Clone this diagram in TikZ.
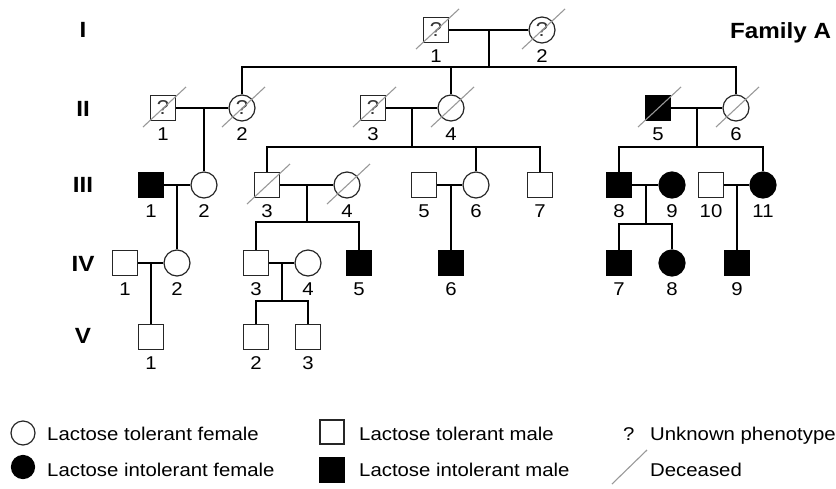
\documentclass[tikz,border=0pt]{standalone}
\usepackage{fontspec}
\setmainfont{Liberation Sans}[FakeStretch=1.1]
\begin{document}
\begin{tikzpicture}[x=1pt,y=-1pt,
  male/.style={draw=black!85, rectangle, minimum size=25pt, inner sep=0pt, line width=1.2pt, text=black!80, font=\fontsize{20}{20}\selectfont},
  female/.style={draw=black!85, circle, minimum size=26pt, inner sep=0pt, line width=1.2pt, text=black!80, font=\fontsize{20}{20}\selectfont},
  aff/.style={fill=black, draw=black},
  rel/.style={line width=1.8pt, black},
  deadline/.style={draw=black!40, line width=1.1pt},
  num/.style={font=\fontsize{18.5}{18.5}\selectfont, inner sep=0pt},
  gen/.style={font=\bfseries\fontsize{22}{22}\selectfont, inner sep=0pt},
  leg/.style={font=\fontsize{18.5}{18.5}\selectfont, inner sep=0pt, anchor=base west}]
\useasboundingbox (0,0) rectangle (836,488);
\newcommand\indiv[6]{\node[#2] (#1) at (#3,#4) {#6}; \node[num] (#1n) at (#3,#4+26) {#5};}
\newcommand\dead[1]{\draw[deadline] ([shift={(-20,19)}]#1.center) -- ([shift={(23,-21)}]#1.center);}

% generation labels
\node[gen] (gI) at (83,30) {I};
\node[gen] (gII) at (83,109) {II};
\node[gen] (gIII) at (83,185) {III};
\node[gen] (gIV) at (83,264) {IV};
\node[gen] (gV) at (83,336) {V};
\node[gen, anchor=base west] (fam) at (730,38) {Family A};

% Generation I
\indiv{I1}{male}{436}{30}{1}{?}
\indiv{I2}{female}{542}{30}{2}{?}
% Generation II
\indiv{II1}{male}{163}{108}{1}{?}
\indiv{II2}{female}{242}{108}{2}{?}
\indiv{II3}{male}{373}{108}{3}{?}
\indiv{II4}{female}{451}{108}{4}{}
\indiv{II5}{male,aff}{658}{108}{5}{}
\indiv{II6}{female}{736}{108}{6}{}
% Generation III
\indiv{III1}{male,aff}{151}{185}{1}{}
\indiv{III2}{female}{204}{185}{2}{}
\indiv{III3}{male}{267}{185}{3}{}
\indiv{III4}{female}{347}{185}{4}{}
\indiv{III5}{male}{424}{185}{5}{}
\indiv{III6}{female}{476}{185}{6}{}
\indiv{III7}{male}{540}{185}{7}{}
\indiv{III8}{male,aff}{619}{185}{8}{}
\indiv{III9}{female,aff}{672}{185}{9}{}
\indiv{III10}{male}{711}{185}{10}{}
\indiv{III11}{female,aff}{763}{185}{11}{}
% Generation IV
\indiv{IV1}{male}{125}{263}{1}{}
\indiv{IV2}{female}{177}{263}{2}{}
\indiv{IV3}{male}{256}{263}{3}{}
\indiv{IV4}{female}{308}{263}{4}{}
\indiv{IV5}{male,aff}{359}{263}{5}{}
\indiv{IV6}{male,aff}{451}{263}{6}{}
\indiv{IV7}{male,aff}{619}{263}{7}{}
\indiv{IV8}{female,aff}{672}{263}{8}{}
\indiv{IV9}{male,aff}{737}{263}{9}{}
% Generation V
\indiv{V1}{male}{151}{337}{1}{}
\indiv{V2}{male}{256}{337}{2}{}
\indiv{V3}{male}{308}{337}{3}{}

% marriages
\draw[rel] (I1) -- (I2);
\draw[rel] (II1) -- (II2);
\draw[rel] (II3) -- (II4);
\draw[rel] (II5) -- (II6);
\draw[rel] (III1) -- (III2);
\draw[rel] (III3) -- (III4);
\draw[rel] (III5) -- (III6);
\draw[rel] (III8) -- (III9);
\draw[rel] (III10) -- (III11);
\draw[rel] (IV1) -- (IV2);
\draw[rel] (IV3) -- (IV4);

% descent I
\coordinate (cI) at (489,30);
\coordinate (sI) at (489,67);
\draw[rel] (cI) -- (sI);
\draw[rel] (II2) |- (sI) -| (II6);
\draw[rel] (II4 |- sI) -- (II4);
% descent II-1/2
\coordinate (cII1) at (204,108);
\draw[rel] (cII1) -- (III2);
% descent II-3/4
\coordinate (cII3) at (412,108);
\coordinate (sII3) at (412,147);
\draw[rel] (cII3) -- (sII3);
\draw[rel] (III3) |- (sII3) -| (III7);
\draw[rel] (III6 |- sII3) -- (III6);
% descent II-5/6
\coordinate (cII5) at (697,108);
\coordinate (sII5) at (697,147);
\draw[rel] (cII5) -- (sII5);
\draw[rel] (III8) |- (sII5) -| (III11);
% descent III-1/2
\coordinate (cIII1) at (177,185);
\draw[rel] (cIII1) -- (IV2);
% descent III-3/4
\coordinate (cIII3) at (307,185);
\coordinate (sIII3) at (307,222);
\draw[rel] (cIII3) -- (sIII3);
\draw[rel] (IV3) |- (sIII3) -| (IV5);
% descent III-5/6
\coordinate (cIII5) at (451,185);
\draw[rel] (cIII5) -- (IV6);
% descent III-8/9
\coordinate (cIII8) at (646,185);
\coordinate (sIII8) at (646,224);
\draw[rel] (cIII8) -- (sIII8);
\draw[rel] (IV7) |- (sIII8) -| (IV8);
% descent III-10/11
\coordinate (cIII10) at (737,185);
\draw[rel] (cIII10) -- (IV9);
% descent IV-1/2
\coordinate (cIV1) at (151,263);
\draw[rel] (cIV1) -- (V1);
% descent IV-3/4
\coordinate (cIV3) at (282,263);
\coordinate (sIV3) at (282,301);
\draw[rel] (cIV3) -- (sIV3);
\draw[rel] (V2) |- (sIV3) -| (V3);

% deceased marks
\dead{I1}\dead{I2}
\dead{II1}\dead{II2}\dead{II3}\dead{II4}\dead{II5}\dead{II6}
\dead{III3}\dead{III4}

% legend
\node[female, minimum size=24pt] (lg1) at (23,433) {};
\node[leg] (lt1) at (47,440) {Lactose tolerant female};
\node[female, aff, minimum size=23pt] (lg2) at (23,467) {};
\node[leg] (lt2) at (47,476) {Lactose intolerant female};
\node[male, minimum size=24pt] (lg3) at (332,432) {};
\node[leg] (lt3) at (359,440) {Lactose tolerant male};
\node[male, aff, minimum size=24pt] (lg4) at (332,470) {};
\node[leg] (lt4) at (359,476) {Lactose intolerant male};
\node[leg] (lq) at (623,440) {?};
\node[leg] (lt5) at (650,440) {Unknown phenotype};
\coordinate (ds1) at (612,484);
\coordinate (ds2) at (647,450);
\draw[deadline] (ds1) -- (ds2);
\node[leg] (lt6) at (650,476) {Deceased};
\end{tikzpicture}
\end{document}
